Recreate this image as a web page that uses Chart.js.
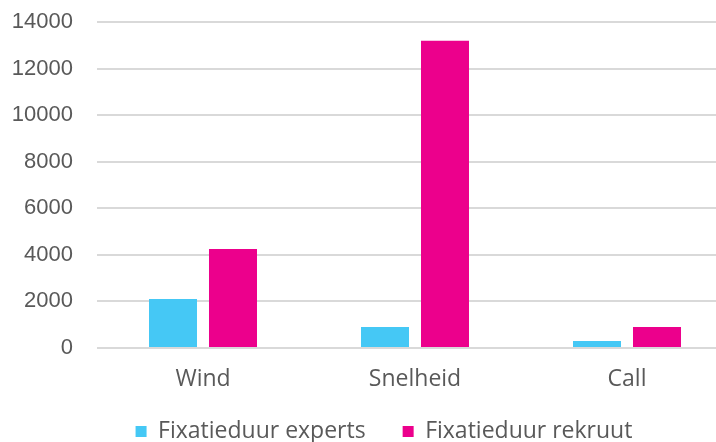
<!DOCTYPE html>
<html>
<head>
<meta charset="utf-8">
<script src="https://cdn.jsdelivr.net/npm/chart.js@4"></script>
<style>
  html, body { margin: 0; padding: 0; background: #fff; overflow: hidden; }
  #wrap { width: 768px; height: 442px; }
</style>
</head>
<body>
<div id="wrap"><canvas id="chart" width="768" height="442"></canvas></div>
<script>
// Categorieën en reekswaarden
const categories = ['Wind', 'Snelheid', 'Call'];
const experts = [2100, 900, 300];
const rekruut = [4250, 13200, 900];
const yTicks = [0, 2000, 4000, 6000, 8000, 10000, 12000, 14000];

const textColor = '#595959';
const gridColor = '#D9D9D9';

// Legenda: vaste hoogte en iets verschoven, zoals in het origineel
const legendPlace = {
    id: 'legendPlace',
    beforeUpdate(chart) {
        const lg = chart.legend;
        if (lg && !lg._fixed) {
            const fit = lg.fit;
            lg.fit = function () { fit.call(this); this.height = 51; };
            lg._fixed = true;
        }
    },
    afterLayout(chart) {
        const lg = chart.legend;
        lg.top -= 8;
        lg.height = lg.bottom - lg.top;
        lg.left += 17.5; lg.right += 17.5;
    }
};

const ctx = document.getElementById('chart').getContext('2d');

new Chart(ctx, {
    type: 'bar',
    data: {
        labels: categories,
        datasets: [{
            label: 'Fixatieduur experts',
            data: experts,
            backgroundColor: '#45C8F5',
            categoryPercentage: 0.566,
            barPercentage: 0.8
        }, {
            label: 'Fixatieduur rekruut',
            data: rekruut,
            backgroundColor: '#EC008C',
            categoryPercentage: 0.566,
            barPercentage: 0.8
        }]
    },
    plugins: [legendPlace],
    options: {
        responsive: false,
        animation: false,
        layout: { padding: { left: 0, right: 35, top: 22, bottom: 0 } },
        plugins: {
            tooltip: { enabled: false },
            legend: {
                position: 'bottom',
                labels: {
                    color: textColor,
                    font: { family: 'Open Sans', size: 23 },
                    boxWidth: 11,
                    boxHeight: 11,
                    padding: 37
                }
            }
        },
        scales: {
            x: {
                afterFit: scale => { scale.height = 43; },
                grid: { display: false },
                border: { display: false },
                ticks: {
                    color: textColor,
                    font: { family: 'Open Sans', size: 23 },
                    padding: 10
                }
            },
            y: {
                min: 0,
                max: 14000,
                afterBuildTicks: scale => { scale.ticks = yTicks.map(v => ({ value: v })); },
                afterFit: scale => {
                    scale.width = 97;
                    scale.paddingTop = 0;
                    scale.paddingBottom = 0;
                },
                grid: { color: gridColor, lineWidth: 2, drawTicks: false },
                border: { display: false },
                ticks: {
                    color: textColor,
                    font: { family: 'Liberation Sans', size: 22 },
                    padding: 24,
                    callback: v => String(v)
                }
            }
        }
    }
});
</script>
</body>
</html>
